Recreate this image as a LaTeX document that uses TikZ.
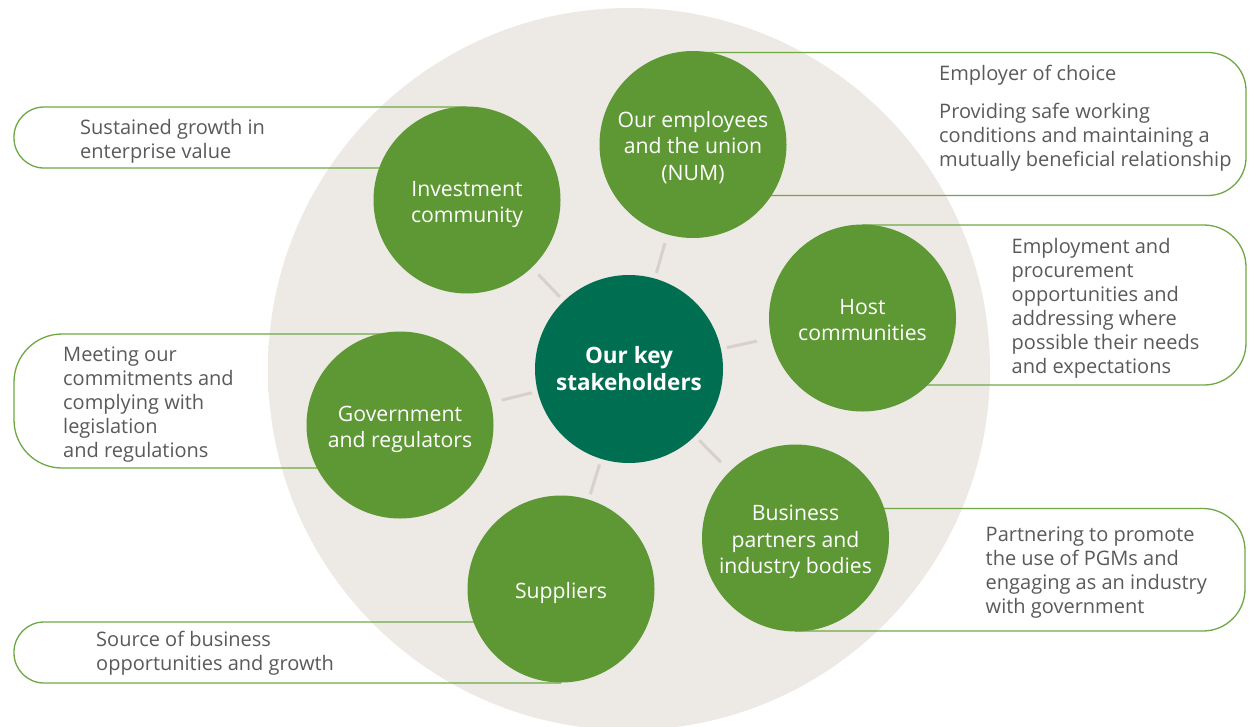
\documentclass[tikz,border=0pt]{standalone}
\usepackage{fontspec}
\setmainfont{Open Sans}
\usetikzlibrary{calc}
\definecolor{discin}{HTML}{EDE9E5}
\definecolor{discout}{HTML}{DDD7D0}
\definecolor{leaf}{HTML}{5E9834}
\definecolor{deep}{HTML}{006F51}
\definecolor{rim}{HTML}{6FA845}
\definecolor{link}{HTML}{D8D1C9}
\definecolor{ink}{HTML}{595A5C}
\pgfdeclareradialshading{bigdisc}{\pgfpoint{0bp}{0bp}}{color(0bp)=(discin); color(43bp)=(discin); color(50bp)=(discout); color(100bp)=(discout)}
\newcommand\lowtext[1]{\raisebox{-4pt}[\height][\depth]{\begin{tabular}{@{}c@{}}#1\end{tabular}}}
\tikzset{
  holder/.style={circle, fill=leaf, minimum size=187pt, inner sep=0pt, text=white, font=\fontsize{21.2}{26.5}\selectfont},
  hub/.style={circle, fill=deep, minimum size=188pt, inner sep=0pt, text=white, align=center, font=\fontsize{22.5}{27}\selectfont\bfseries},
  callout/.style={draw=rim, line width=1.3pt},
  conn/.style={draw=link, line width=3pt},
  note/.style={anchor=west, align=left, text=ink, inner sep=0pt, font=\fontsize{20}{24}\selectfont}
}
\begin{document}
\begin{tikzpicture}[x=1pt, y=-1pt]
\useasboundingbox (0,0) rectangle (1252,726);
\fill[white] (0,0) rectangle (1252,726);
% big background disc
\path[shading=bigdisc] (629,369) circle (361);
% callout frames
\draw[callout, rounded corners=30pt] (467,107) -- (14,107) -- (14,168) -- (467,168);
\draw[callout, rounded corners=48pt] (400,334) -- (14,334) -- (14,468) -- (400,468);
\draw[callout, rounded corners=30pt] (561,622) -- (14,622) -- (14,683) -- (561,683);
\draw[callout, rounded corners=38pt] (693,52.5) -- (1246,52.5) -- (1246,195.5) -- (693,195.5);
\draw[callout, rounded corners=42pt] (862,225) -- (1246,225) -- (1246,385) -- (862,385);
\draw[callout, rounded corners=42pt] (795,508.5) -- (1245,508.5) -- (1245,631) -- (795,631);
% nodes
\node[hub] (c) at (629,369) {Our key\\stakeholders};
\node[holder] (inv) at (467,200) {\lowtext{Investment\\community}};
\node[holder] (emp) at (693,144.5) {\lowtext{Our employees\\and the union\\(NUM)}};
\node[holder] (host) at (862.5,318) {\lowtext{Host\\communities}};
\node[holder] (gov) at (400,425) {\lowtext{Government\\and regulators}};
\node[holder] (sup) at (561,589) {\lowtext{Suppliers}};
\node[holder] (bus) at (795.5,538) {\lowtext{Business\\partners and\\industry bodies}};
% connectors
\foreach \t in {inv,emp,host,gov,sup,bus}
  \draw[conn] ($(c)!100pt!(\t)$) -- ($(c)!131pt!(\t)$);
% callout texts
\node[note] (tinv) at (80,141) {Sustained growth in\\enterprise value};
\node[note] (tgov) at (63,405) {Meeting our\\commitments and\\complying with\\legislation\\and regulations};
\node[note] (tsup) at (96,653) {Source of business\\opportunities and growth};
\node[note] (temp1) at (939,75) {Employer of choice};
\node[note] (temp2) at (939,137.5) {Providing safe working\\conditions and maintaining a\\mutually beneficial relationship};
\node[note] (thost) at (1011.5,308) {Employment and\\procurement\\opportunities and\\addressing where\\possible their needs\\and expectations};
\node[note] (tbus) at (985.5,572.5) {Partnering to promote\\the use of PGMs and\\engaging as an industry\\with government};
\end{tikzpicture}
\end{document}
